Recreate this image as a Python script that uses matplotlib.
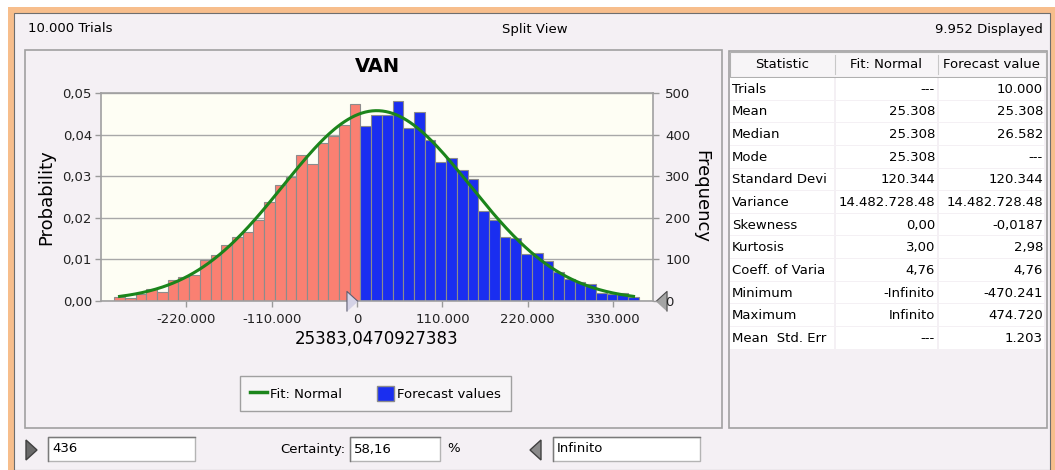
import numpy as np
import matplotlib
matplotlib.use("Agg")
import matplotlib.pyplot as plt
import matplotlib.transforms as mtransforms
from matplotlib.patches import Rectangle, Polygon, Patch
from matplotlib.lines import Line2D
from matplotlib.ticker import FuncFormatter

plt.rcParams['font.family'] = ['DejaVu Sans']

# --- simulation results -------------------------------------------------
total_trials = 10000
displayed = 9952
bin_start = -313000
bin_width = 13800
lower_bound = 436
certainty = "58,16"
upper_label = "Infinito"
value_label = "25383,0470927383"

# frequencies below / above the certainty lower bound
freq_below = [8, 7, 15, 27, 20, 50, 56, 62, 97, 111, 133, 153, 166, 195, 237,
              279, 297, 351, 328, 379, 396, 424, 473]
freq_above = [420, 447, 448, 480, 415, 454, 387, 334, 344, 315, 292, 217, 195,
              153, 150, 112, 115, 96, 70, 52, 44, 40, 19, 15, 18, 10]

fit_mean = 25308
fit_std = 120344

x_ticks = [-220000, -110000, 0, 110000, 220000, 330000]
prob_ticks = [0.0, 0.01, 0.02, 0.03, 0.04, 0.05]
freq_ticks = [0, 100, 200, 300, 400, 500]

stat_names = ["Trials", "Mean", "Median", "Mode", "Standard Devi", "Variance",
              "Skewness", "Kurtosis", "Coeff. of Varia", "Minimum", "Maximum",
              "Mean  Std. Err"]
fit_values = ["---", "25.308", "25.308", "25.308", "120.344", "14.482.728.48",
              "0,00", "3,00", "4,76", "-Infinito", "Infinito", "---"]
forecast_values = ["10.000", "25.308", "26.582", "---", "120.344",
                   "14.482.728.48", "-0,0187", "2,98", "4,76", "-470.241",
                   "474.720", "1.203"]

# --- colours ------------------------------------------------------------
BG = "#F4F0F4"
ORANGE = "#F7BE8C"
RED = "#FA8072"
BLUE = "#1A2EF0"
GREEN = "#1B851B"
PLOT_BG = "#FEFEF4"
GRID = "#A8A8A8"
FS = 9.5

W, H = 1055, 470
fig = plt.figure(figsize=(W / 100, H / 100), dpi=100, facecolor="white")


def fx(px):
    return px / W


def fy(py):
    return 1 - py / H


def frect(x0, y0, x1, y1, zorder=-5, **kw):
    fig.patches.append(Rectangle((fx(x0), fy(y1)), fx(x1) - fx(x0), fy(y0) - fy(y1),
                                 transform=fig.transFigure, zorder=zorder, **kw))


# window frame
frect(8, 7, W, H, facecolor=ORANGE, edgecolor="none", zorder=-10)
frect(14, 13, 1050, H, facecolor=BG, edgecolor="#6E6E6E", lw=0.8, zorder=-9)

fig.text(fx(28), fy(29), "10.000 Trials", fontsize=FS, va="center", ha="left")
fig.text(fx(535), fy(29), "Split View", fontsize=FS, va="center", ha="center")
fig.text(fx(1043), fy(29), f"{displayed / 1000:.3f} Displayed", fontsize=FS,
         va="center", ha="right")

# chart and statistics panels
frect(25, 50, 722, 428, facecolor=BG, edgecolor="#A0A0A0", lw=1.2, zorder=-8)
frect(729, 51, 1047, 428, facecolor=BG, edgecolor="#A0A0A0", lw=1.2, zorder=-8)

# --- histogram ----------------------------------------------------------
ax = fig.add_axes([fx(101), fy(300.7), fx(652.7) - fx(101), fy(93) - fy(300.7)])
ax.set_zorder(2)
ax.set_facecolor(PLOT_BG)

n_below = len(freq_below)
edges_below = bin_start + bin_width * np.arange(n_below)
edges_above = bin_start + bin_width * np.arange(n_below, n_below + len(freq_above))
ax.bar(edges_below, np.array(freq_below) / total_trials, width=bin_width,
       align="edge", color=RED, edgecolor="#8C8C8C", linewidth=0.8, zorder=2)
ax.bar(edges_above, np.array(freq_above) / total_trials, width=bin_width,
       align="edge", color=BLUE, edgecolor="#8C8C8C", linewidth=0.8, zorder=2)

# fitted normal, scaled to one bin
xs = np.linspace(bin_start + bin_width / 2,
                 edges_above[-1] + bin_width / 2, 300)
pdf = np.exp(-0.5 * ((xs - fit_mean) / fit_std) ** 2) / (fit_std * np.sqrt(2 * np.pi))
ax.plot(xs, pdf * bin_width, color=GREEN, lw=2.2, zorder=3)

ax.set_xlim(-330000, 381000)
ax.set_ylim(0, 0.05)
ax.set_xticks(x_ticks)
ax.set_yticks(prob_ticks)
ax.xaxis.set_major_formatter(FuncFormatter(lambda v, p: f"{v:,.0f}".replace(",", ".")))
ax.yaxis.set_major_formatter(FuncFormatter(lambda v, p: f"{v:.2f}".replace(".", ",")))
ax.grid(axis="y", color=GRID, lw=1.0, zorder=1)
ax.set_axisbelow(True)
ax.tick_params(colors="#9A9A9A", labelcolor="#222222", labelsize=FS, length=4.5,
               width=1)
ax.tick_params(axis="y", pad=2)
ax.tick_params(axis="x", pad=4)
for s in ax.spines.values():
    s.set_color("#A0A0A0")
    s.set_linewidth(1.2)
ax.set_ylabel("Probability", fontsize=13, labelpad=5)
ax.set_xlabel(value_label, fontsize=12, labelpad=3)

ax2 = ax.twinx()
ax2.set_ylim(0, 500)
ax2.set_yticks(freq_ticks)
ax2.tick_params(colors="#9A9A9A", labelcolor="#222222", labelsize=FS, length=4.5,
                width=1, pad=4.5)
for s in ax2.spines.values():
    s.set_visible(False)
ax2.set_ylabel("Frequency", fontsize=13, rotation=270, labelpad=14)

# certainty grabbers (narrow triangles)
right_tri = [(-0.55, -1), (-0.55, 1), (0.55, 0)]
left_tri = [(0.55, -1), (0.55, 1), (-0.55, 0)]
tr_low = mtransforms.offset_copy(ax.transData, fig=fig, x=-4, y=0, units="points")
ax.plot(lower_bound, 0, marker=right_tri, ms=14.5, color="#D4D2E6", mec="#5E5E70",
        mew=0.8, transform=tr_low, clip_on=False, zorder=5)
tr_high = mtransforms.offset_copy(ax.transAxes, fig=fig, x=6, y=0, units="points")
ax.plot(1, 0, marker=left_tri, ms=14.5, color="#A4A4A4", mec="#4A4A4A", mew=0.8,
        transform=tr_high, clip_on=False, zorder=5)

fig.text(fx(377), fy(66), "VAN", fontsize=14, fontweight="bold", ha="center",
         va="center")

handles = [Line2D([0], [0], color=GREEN, lw=2.5),
           Patch(facecolor=BLUE, edgecolor="#8C8C8C")]
leg = fig.legend(handles, ["Fit: Normal", "Forecast values"], ncol=2,
                 loc="center", bbox_to_anchor=(fx(375.5), fy(393.5)), fontsize=FS,
                 frameon=True, fancybox=False, edgecolor="#A0A0A0",
                 facecolor="#F7F5F7", framealpha=1, handlelength=1.3,
                 handleheight=1.3, handletextpad=0.25, columnspacing=2.6,
                 borderpad=0.75)
leg.get_frame().set_linewidth(1.0)

# --- statistics table ---------------------------------------------------
col_x = [729, 835, 938, 1045]
frect(730, 52, 1046, 77, facecolor="#F7F5F7", edgecolor="#B0B0B0", lw=0.8, zorder=-4)
for cx in col_x[1:3]:
    fig.add_artist(Line2D([fx(cx), fx(cx)], [fy(55), fy(74)], color="#C8C8C8",
                          lw=0.8, transform=fig.transFigure))
headers = ["Statistic", "Fit: Normal", "Forecast value"]
for i, h in enumerate(headers):
    fig.text(fx((col_x[i] + col_x[i + 1]) / 2), fy(65), h, fontsize=FS,
             ha="center", va="center")

row_h = 22.64
for r, name in enumerate(stat_names):
    top = 78 + r * row_h
    for c in range(3):
        frect(col_x[c] + 1, top, col_x[c + 1] - 1, top + row_h - 1,
              facecolor="white", edgecolor="none", zorder=-4)
    cy = top + row_h / 2
    fig.text(fx(732), fy(cy), name, fontsize=FS, ha="left", va="center")
    fig.text(fx(935), fy(cy), fit_values[r], fontsize=FS, ha="right", va="center")
    fig.text(fx(1043), fy(cy), forecast_values[r], fontsize=FS, ha="right",
             va="center")

# --- certainty controls -------------------------------------------------
def text_box(x0, x1, label):
    frect(x0, 437, x1, 461, facecolor="white", edgecolor="#B4B4B4", lw=1.0, zorder=-4)
    fig.add_artist(Line2D([fx(x0), fx(x0), fx(x1)], [fy(461), fy(437), fy(437)],
                          color="#7A7A7A", lw=1.0, transform=fig.transFigure))
    fig.text(fx(x0 + 4), fy(449), label, fontsize=FS, ha="left", va="center")


fig.patches.append(Polygon([(fx(26), fy(440)), (fx(26), fy(460)), (fx(37), fy(450))],
                           closed=True, facecolor="#6A6A6A", edgecolor="#404040",
                           transform=fig.transFigure))
text_box(48, 195, f"{lower_bound}")
fig.text(fx(345), fy(449), "Certainty:", fontsize=FS, ha="right", va="center")
text_box(350, 440, certainty)
fig.text(fx(447), fy(449), "%", fontsize=FS, ha="left", va="center")
fig.patches.append(Polygon([(fx(541), fy(440)), (fx(541), fy(460)), (fx(530), fy(450))],
                           closed=True, facecolor="#8A8A8A", edgecolor="#404040",
                           transform=fig.transFigure))
text_box(553, 700, upper_label)

fig.savefig("out.png", dpi=100, facecolor=fig.get_facecolor())
